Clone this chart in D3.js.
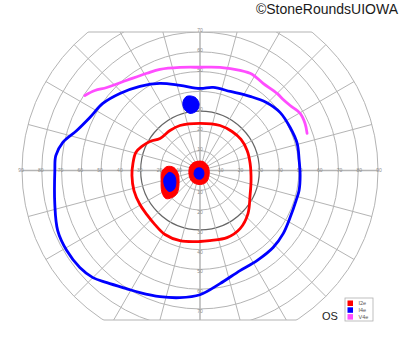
<!DOCTYPE html>
<html>
<head>
<meta charset="utf-8">
<script src="https://cdn.jsdelivr.net/npm/d3@7/dist/d3.min.js"></script>
<style>
  body { margin: 0; background: #fff; }
</style>
</head>
<body>
<div id="chart"></div>
<script>
// Isopter points: [meridian angle in degrees, counter-clockwise from right, eccentricity in degrees]
const i4eIsopter = [
  [90, 41.5], [81, 42.5], [69, 42.8], [56, 45.2], [46, 48.0], [36, 50.0], [25.5, 50.5],
  [15.6, 51.0], [5.8, 50.4], [-2.9, 50.7], [-11.4, 51.1], [-17.4, 50.9], [-27.6, 51.4],
  [-37.2, 52.8], [-46.5, 53.7], [-57.7, 53.9], [-68.2, 54.5], [-80, 58.1], [-90, 62.8],
  [-99, 65.1], [-107.6, 66.9], [-116.2, 68.8], [-121.7, 70.3], [-129.7, 73.7], [-135, 76.6],
  [-141.1, 78.1], [-149, 78.6], [-157.1, 78.1], [-167.2, 75.3], [-180, 73.4], [-185.9, 73.3],
  [-191.6, 70.8], [-198, 65.5], [-205.7, 61.8], [-214.6, 59.7], [-223.9, 56.2], [-234.5, 52.3],
  [-245.3, 48.5], [-256.8, 44.2]
];
const i2eIsopter = [
  [90, 23.8], [66, 24.9], [50.6, 25.5], [37.1, 26.0], [23.1, 25.9], [8, 25.6], [-11.1, 26.3],
  [-26.6, 28.3], [-41.9, 32.6], [-55.4, 35.7], [-68.1, 36.6], [-81.9, 35.8], [-90, 35.9],
  [-105.9, 36.9], [-118.7, 36.9], [-129.8, 35.6], [-140.3, 34.9], [-150.5, 34.9], [-163.1, 34.9],
  [-175.8, 34.5], [-186, 34.1], [-195.7, 33.7], [-202.5, 31.8], [-210.1, 29.3], [-218.7, 25.9],
  [-233.1, 25.3], [-246, 24.9]
];
const v4eIsopter = [
  [146.9, 69.5], [142.7, 66.8], [138.3, 63.1], [129, 58.7], [118.6, 56.0], [111.6, 55.0],
  [101, 53.1], [90, 52.2], [79, 53.1], [68.2, 54.5], [61.6, 55.3], [54.1, 54.4], [45, 55.1],
  [40.5, 55.3], [35.8, 56.2], [29.7, 58.3], [24.1, 58.2], [19.1, 57.3]
];
// small seen / unseen spots
const i4eSpotTop = [[100, 38.1], [93.9, 37.1], [90.8, 33.9], [92.8, 30.4], [100, 29.3], [104.5, 32.4], [103.8, 35.9]];
const i2eBlindSpot = [[173.2, 16.8], [173.5, 13.3], [187.7, 11.2], [211.9, 12.5], [225, 16.4], [224, 19.7], [219.5, 22.3], [210, 22.2], [194.5, 20.3], [181.5, 19.2]];
const i4eBlindSpot = [[183.6, 15.7], [188.6, 13.4], [204.7, 13.4], [216, 16.3], [214, 18.9], [204.6, 19.5], [192.7, 18.7]];
const i2eCentral = [[126.2, 5.1], [71.9, 4.8], [26, 4.6], [-28.5, 5.2], [-63.8, 6.8], [-94, 7.1], [-126.2, 6.9], [-160.3, 5.9], [-201.4, 5.5]];
const i4eCentral = [[153.4, 2.2], [45, 1.4], [-36.9, 2.5], [-76.3, 4.2], [-109.9, 4.4], [-146.3, 3.6]];

const rings = [10, 20, 30, 40, 50, 60, 70, 80, 90];
const spokes = d3.range(0, 360, 15);
const horizontalLabels = [10, 20, 30, 40, 50, 60, 70, 80, 90];
const verticalLabels = [10, 20, 30, 40, 50, 60, 70];
const legendKeys = ["I2e", "I4e", "V4e"];

const width = 400, height = 352;
const cx = 200, cy = 170.5;
const clipTop = 32, clipBottom = 320;

const color = d3.scaleOrdinal().domain(legendKeys).range(["#ff0000", "#0000ff", "#ff4dff"]);
const r = d3.scaleLinear().domain([0, 90]).range([0, 178]);
const toRad = a => (90 - a) * Math.PI / 180;

const svg = d3.select("#chart").append("svg")
  .attr("width", width)
  .attr("height", height)
  .style("font-family", "Liberation Sans, Arial, sans-serif");

svg.append("defs").append("clipPath").attr("id", "field")
  .append("rect")
  .attr("x", 0).attr("y", clipTop)
  .attr("width", width).attr("height", clipBottom - clipTop);

const grid = svg.append("g")
  .attr("clip-path", "url(#field)")
  .append("g")
  .attr("transform", `translate(${cx},${cy})`);

grid.selectAll("circle.ring")
  .data(rings)
  .enter().append("circle")
  .attr("class", "ring")
  .attr("r", d => r(d))
  .attr("fill", "none")
  .attr("stroke", d => d === 30 ? "#666" : "#b4b4b4")
  .attr("stroke-width", d => d === 30 ? 1.2 : 1);

grid.selectAll("line.spoke")
  .data(spokes)
  .enter().append("line")
  .attr("class", "spoke")
  .attr("x1", 0).attr("y1", 0)
  .attr("x2", d => r(90) * Math.cos(d * Math.PI / 180))
  .attr("y2", d => -r(90) * Math.sin(d * Math.PI / 180))
  .attr("stroke", "#b4b4b4")
  .attr("stroke-width", d => d % 90 === 0 ? 1.5 : 1);

// top & bottom edges of the field
[clipTop, clipBottom].forEach(y => {
  const dy = y - cy;
  const half = Math.sqrt(r(90) * r(90) - dy * dy);
  svg.append("line")
    .attr("x1", cx - half).attr("x2", cx + half)
    .attr("y1", y).attr("y2", y)
    .attr("stroke", "#b4b4b4")
    .attr("stroke-width", 1.2);
});

// tick labels
const labels = svg.append("g").attr("transform", `translate(${cx},${cy})`)
  .style("font-size", "5px")
  .attr("fill", "#8c8c8c")
  .attr("text-anchor", "middle");

horizontalLabels.forEach(d => {
  [-1, 1].forEach(s => {
    labels.append("text")
      .attr("x", s * (r(d) + 1))
      .attr("y", 1)
      .text(d);
  });
});
verticalLabels.forEach(d => {
  [-1, 1].forEach(s => {
    labels.append("text")
      .attr("x", 0)
      .attr("y", s * (r(d) + 2) + 2)
      .text(d);
  });
});

// isopters
const plot = svg.append("g").attr("transform", `translate(${cx},${cy})`);

const closedLine = d3.lineRadial()
  .angle(d => toRad(d[0]))
  .radius(d => r(d[1]))
  .curve(d3.curveCatmullRomClosed);

const openLine = d3.lineRadial()
  .angle(d => toRad(d[0]))
  .radius(d => r(d[1]))
  .curve(d3.curveCatmullRom);

const spots = [
  { key: "I2e", pts: i2eBlindSpot },
  { key: "I2e", pts: i2eCentral },
  { key: "I4e", pts: i4eBlindSpot },
  { key: "I4e", pts: i4eCentral },
  { key: "I4e", pts: i4eSpotTop }
];

plot.selectAll("path.spot")
  .data(spots)
  .enter().append("path")
  .attr("class", "spot")
  .attr("d", d => closedLine(d.pts))
  .attr("fill", d => color(d.key))
  .attr("stroke", d => color(d.key))
  .attr("stroke-width", 1);

plot.append("path")
  .attr("d", closedLine(i2eIsopter))
  .attr("fill", "none")
  .attr("stroke", color("I2e"))
  .attr("stroke-width", 2.8);

plot.append("path")
  .attr("d", closedLine(i4eIsopter))
  .attr("fill", "none")
  .attr("stroke", color("I4e"))
  .attr("stroke-width", 2.8);

plot.append("path")
  .attr("d", openLine(v4eIsopter))
  .attr("fill", "none")
  .attr("stroke", color("V4e"))
  .attr("stroke-width", 2.8)
  .attr("stroke-linecap", "round");

// legend
const legend = svg.append("g").attr("transform", "translate(345,298)");
legend.append("rect")
  .attr("width", 28).attr("height", 23)
  .attr("fill", "#fff")
  .attr("stroke", "#b0b0b0")
  .attr("stroke-width", 0.8);

legendKeys.forEach((key, i) => {
  const row = legend.append("g").attr("transform", `translate(2.5, ${2.5 + i * 6.8})`);
  row.append("rect")
    .attr("width", 5.5).attr("height", 5.5)
    .attr("fill", color(key));
  row.append("text")
    .attr("x", 11)
    .attr("y", 4.8)
    .style("font-size", "5.5px")
    .attr("fill", "#555")
    .text(key);
});

svg.append("text")
  .attr("x", 322)
  .attr("y", 320)
  .style("font-size", "11px")
  .attr("fill", "#222")
  .text("OS");

svg.append("text")
  .attr("x", 398)
  .attr("y", 13.5)
  .attr("text-anchor", "end")
  .style("font-size", "14px")
  .attr("fill", "#1a1a1a")
  .text("©StoneRoundsUIOWA");
</script>
</body>
</html>
